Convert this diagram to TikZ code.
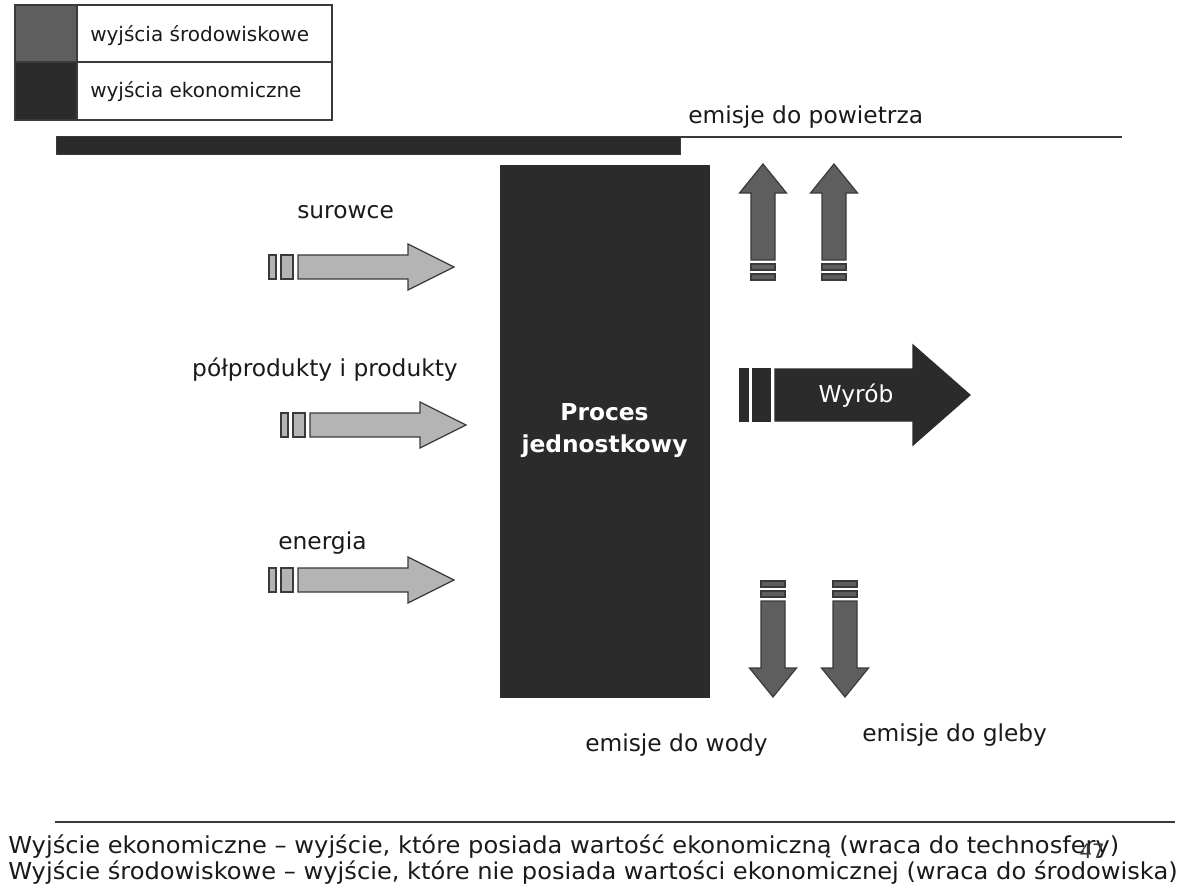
\documentclass[tikz,border=0pt]{standalone}
\usepackage{fontspec}
\setmainfont{DejaVu Sans}
\newfontfamily\notefont[FakeStretch=1.035]{DejaVu Sans}
\usepackage{tikz}
\usetikzlibrary{positioning}
\definecolor{ink}{HTML}{1A1A1A}
\definecolor{econ}{HTML}{2B2B2B}
\definecolor{envi}{HTML}{5E5E5E}
\definecolor{inp}{HTML}{B4B4B4}
\definecolor{edge}{HTML}{3A3A3A}
\tikzset{
  lab/.style={font=\fontsize{17.5}{20}\selectfont,text=ink,inner sep=0pt},
  leg/.style={font=\fontsize{15}{18}\selectfont,text=ink,inner sep=0pt,anchor=west},
  note/.style={font=\notefont\fontsize{17.5}{20}\selectfont,text=ink,inner sep=0pt,anchor=west},
  inarr/.style={draw=edge,fill=inp,line width=0.9pt},
  envarr/.style={draw=edge,fill=envi,line width=0.9pt},
  ecoarr/.style={draw=econ,fill=econ,line width=0.9pt},
  proc/.style={draw=econ,fill=econ,minimum width=156.75pt,minimum height=399pt,inner sep=0pt,
    align=center,text=white,font=\bfseries\fontsize{17.5}{24}\selectfont},
  % input arrow, origin at the tip
  srcarrow/.pic={
    \draw[inarr] (-156,-12) -- (-46,-12) -- (-46,-23) -- (0,0) -- (-46,23) -- (-46,12) -- (-156,12) -- cycle;
    \draw[inarr] (-185,-12) rectangle (-178,12);
    \draw[inarr] (-173,-12) rectangle (-161,12);
  },
  % emission arrow pointing up, origin at the tip
  emarrow/.pic={
    \draw[envarr] (-12,96) -- (-12,29) -- (-23.5,29) -- (0,0) -- (23.5,29) -- (12,29) -- (12,96) -- cycle;
    \draw[envarr] (-12,100) rectangle (12,106);
    \draw[envarr] (-12,110) rectangle (12,116);
  },
}
\begin{document}
\begin{tikzpicture}[x=0.75pt,y=-0.75pt]
\useasboundingbox (0,0) rectangle (1191,893);

% legend
\draw[edge,fill=envi,line width=0.9pt] (15,5) rectangle (77,62);
\draw[edge,fill=econ,line width=0.9pt] (15,62) rectangle (77,120);
\draw[edge,line width=0.9pt] (77,5) rectangle (332,62);
\draw[edge,line width=0.9pt] (77,62) rectangle (332,120);
\node[leg] (lenv) at (90,36) {wyjścia środowiskowe};
\node[leg] (leco) at (90,92) {wyjścia ekonomiczne};

% system boundary
\draw[edge,fill=econ,line width=0.6pt] (56,136) rectangle (680,154);
\draw[edge,line width=1pt] (680,137) -- (1122,137);
\node[lab,anchor=west] (air) at (688,117) {emisje do powietrza};

% unit process
\node[proc] (proc) at (604.5,431) {Proces\\jednostkowy};

% inputs
\node[lab,anchor=west] (sur) at (297,212) {surowce};
\node[lab] (pol) at (325,370) {półprodukty i produkty};
\node[lab,anchor=west] (ene) at (278,543) {energia};
\pic at (454,267) {srcarrow};
\pic at (466,425) {srcarrow};
\pic at (454,580) {srcarrow};

% emissions
\pic at (763,164) {emarrow};
\pic at (834,164) {emarrow};
\pic[rotate=180] at (773,697) {emarrow};
\pic[rotate=180] at (845,697) {emarrow};
\node[lab,anchor=west] (wat) at (585,745) {emisje do wody};
\node[lab,anchor=west] (soil) at (862,735) {emisje do gleby};

% product
\draw[ecoarr] (775,369) -- (913,369) -- (913,345) -- (970,395) -- (913,445) -- (913,421) -- (775,421) -- cycle;
\draw[ecoarr] (740,369) rectangle (748,421);
\draw[ecoarr] (753,369) rectangle (770,421);
\node[lab,text=white] (prod) at (856,396) {Wyrób};

% definitions
\draw[edge,line width=1pt] (55,822) -- (1175,822);
\node[note] (def1) at (8,847) {Wyjście ekonomiczne – wyjście, które posiada wartość ekonomiczną (wraca do technosfery)};
\node[note] (def2) at (8,873) {Wyjście środowiskowe – wyjście, które nie posiada wartości ekonomicznej (wraca do środowiska)};
\node[lab,font=\fontsize{15}{17}\selectfont,text=ink!85] (page) at (1092,851) {47};
\end{tikzpicture}
\end{document}
